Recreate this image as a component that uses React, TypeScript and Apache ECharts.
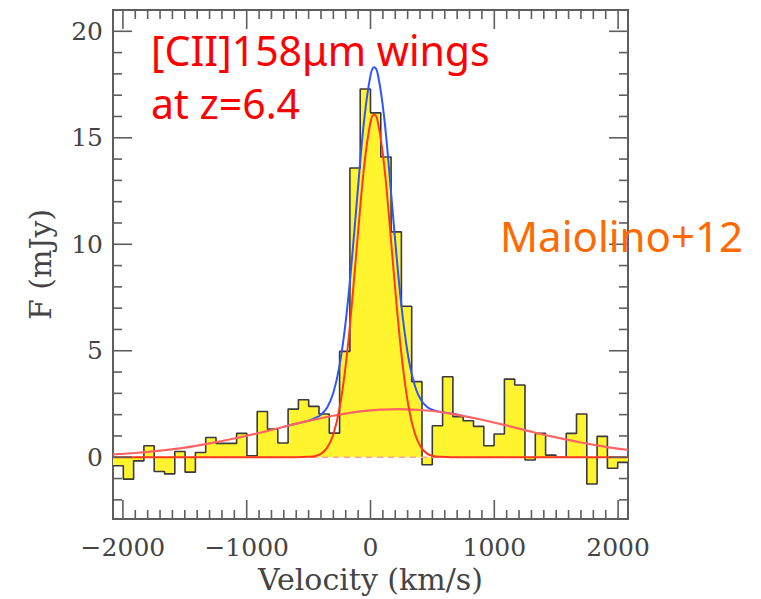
import React, { useEffect, useRef } from "react";
import * as echarts from "echarts";

// ---------- data ----------
const VELOCITY_RANGE = [-2080, 2080];
const FLUX_RANGE = [-2.9, 21];
const BIN_START = -2080; // km/s, left edge of first channel
const BIN_WIDTH = 83.2; // km/s

// observed flux per channel (mJy), left to right
const FLUX = [
  -0.4, -1.03, -0.17, 0.54, -0.67, -0.78, 0.27, -0.7, 0.22, 0.93,
  0.65, 0.65, 1.12, 0.07, 2.15, 1.32, 0.67, 2.26, 2.7, 2.39,
  2.03, 1.13, 4.97, 13.58, 17.29, 16.17, 14.1, 10.58, 7.09, 3.55,
  -0.35, 1.48, 3.78, 1.9, 1.71, 1.45, 0.54, 1.09, 3.67, 3.39,
  -0.13, 1.12, 0.1, 0.0, 1.12, 2.03, -1.26, 0.98, -0.52, -0.24,
];

// narrow component fit (red)
const NARROW_V = [-2080, -800, -600, -500, -450, -400, -350, -300, -250, -200, -150, -100, -50, 0, 30, 60, 110, 160, 210, 260, 310, 360, 410, 460, 510, 560, 660, 860, 2080];
const NARROW_F = [0, 0, 0, 0.02, 0.05, 0.16, 0.45, 1.08, 2.3, 4.33, 7.21, 10.58, 13.73, 15.73, 16.09, 15.73, 13.73, 10.58, 7.21, 4.33, 2.3, 1.08, 0.45, 0.16, 0.05, 0.02, 0, 0, 0];

// broad wing component fit (light red)
const BROAD_V = [-2080, -1900, -1700, -1500, -1300, -1100, -900, -700, -500, -300, -100, 100, 220, 300, 500, 700, 900, 1100, 1300, 1500, 1700, 1900, 2080];
const BROAD_F = [0.13, 0.2, 0.31, 0.45, 0.65, 0.88, 1.14, 1.43, 1.71, 1.95, 2.14, 2.24, 2.26, 2.25, 2.17, 1.99, 1.76, 1.49, 1.2, 0.93, 0.69, 0.49, 0.35];

// total fit (blue)
const TOTAL_V = [-700, -600, -500, -450, -400, -350, -300, -250, -200, -150, -100, -50, 0, 30, 60, 110, 160, 210, 260, 310, 360, 410, 460, 510, 560, 660, 760];
const TOTAL_F = [1.43, 1.57, 1.72, 1.83, 2.0, 2.34, 3.03, 4.31, 6.38, 9.31, 12.72, 15.9, 17.93, 18.31, 17.96, 15.98, 12.84, 9.47, 6.59, 4.55, 3.32, 2.66, 2.35, 2.21, 2.14, 2.04, 1.93];

// tick values
const X_MAJOR = [-2000, -1000, 0, 1000, 2000];
const X_MINOR = Array.from({ length: 41 }, (_, i) => -2000 + i * 100);
const Y_MAJOR = [0, 5, 10, 15, 20];
const Y_MINOR = Array.from({ length: 23 }, (_, i) => -2 + i);

const TITLE_LINES = ["[CII]158\u03bcm wings", "at z=6.4"];
const CREDIT = "Maiolino+12";

const AXIS_COLOR = "#5e5e5e";
const TEXT_COLOR = "#444";
const MAJOR_LEN = 19;
const MINOR_LEN = 9;

export default function App() {
  const ref = useRef<HTMLDivElement>(null);

  useEffect(() => {
    if (!ref.current) return;
    const chart = echarts.init(ref.current, undefined, { renderer: "svg" });

    const edges = FLUX.map((_, i) => BIN_START + i * BIN_WIDTH);
    const histData = FLUX.map((f, i) => [edges[i], f]);
    histData.push([BIN_START + FLUX.length * BIN_WIDTH, FLUX[FLUX.length - 1]]);

    const fmt = (v: number) => (v < 0 ? "\u2212" + Math.abs(v) : String(v));

    const xTickData = X_MINOR.map((v) => [v, FLUX_RANGE[0], X_MAJOR.includes(v) ? 1 : 0]);
    const yTickData = Y_MINOR.map((v) => [VELOCITY_RANGE[0], v, Y_MAJOR.includes(v) ? 1 : 0]);
    const tickStyle = { stroke: AXIS_COLOR, lineWidth: 1.6 };

    const option: any = {
      animation: false,
      grid: {
        left: 113,
        top: 10,
        width: 515,
        height: 509,
        show: true,
        borderColor: AXIS_COLOR,
        borderWidth: 2,
        backgroundColor: "transparent",
        outerBoundsMode: "none",
        containLabel: false,
      },
      xAxis: {
        type: "value",
        min: VELOCITY_RANGE[0],
        max: VELOCITY_RANGE[1],
        splitLine: { show: false },
        axisLine: { show: false, onZero: false },
        axisTick: { show: false },
        axisLabel: {
          show: true,
          customValues: X_MAJOR,
          formatter: fmt,
          fontFamily: "DejaVu Serif",
          fontSize: 25,
          color: TEXT_COLOR,
          margin: 16,
        },
        name: "Velocity (km/s)",
        nameLocation: "middle",
        nameGap: 45,
        nameTextStyle: { fontFamily: "DejaVu Serif", fontSize: 30, color: TEXT_COLOR },
      },
      yAxis: {
        type: "value",
        min: FLUX_RANGE[0],
        max: FLUX_RANGE[1],
        splitLine: { show: false },
        axisLine: { show: false, onZero: false },
        axisTick: { show: false },
        axisLabel: {
          show: true,
          customValues: Y_MAJOR,
          formatter: fmt,
          fontFamily: "DejaVu Serif",
          fontSize: 25,
          color: TEXT_COLOR,
          margin: 10,
        },
        name: "F (mJy)",
        nameLocation: "middle",
        nameGap: 58,
        nameTextStyle: { fontFamily: "DejaVu Serif", fontSize: 30, color: TEXT_COLOR },
      },
      series: [
        {
          name: "spectrum",
          type: "line",
          step: "end",
          data: histData,
          symbol: "none",
          lineStyle: { color: "#3a3a3a", width: 1.6 },
          areaStyle: { color: "#fff42e", opacity: 1, origin: "auto" },
          silent: true,
          z: 2,
        },
        {
          name: "zero",
          type: "line",
          data: [[VELOCITY_RANGE[0], 0], [VELOCITY_RANGE[1], 0]],
          symbol: "none",
          lineStyle: { color: "#ffa0a0", width: 1.5, type: [6, 5] },
          silent: true,
          z: 3,
        },
        {
          name: "total",
          type: "line",
          data: TOTAL_V.map((v, i) => [v, TOTAL_F[i]]),
          symbol: "none",
          smooth: 0.4,
          lineStyle: { color: "#2f55ff", width: 2 },
          silent: true,
          z: 4,
        },
        {
          name: "broad",
          type: "line",
          data: BROAD_V.map((v, i) => [v, BROAD_F[i]]),
          symbol: "none",
          smooth: 0.4,
          lineStyle: { color: "#ff6464", width: 2.2 },
          silent: true,
          z: 5,
        },
        {
          name: "narrow",
          type: "line",
          data: NARROW_V.map((v, i) => [v, NARROW_F[i]]),
          symbol: "none",
          smooth: 0.4,
          lineStyle: { color: "#ff3a1c", width: 2 },
          silent: true,
          z: 6,
        },
        {
          name: "xticks",
          type: "custom",
          silent: true,
          clip: false,
          z: 10,
          data: xTickData,
          renderItem: (params: any, api: any) => {
            const v = api.value(0);
            const len = api.value(2) ? MAJOR_LEN : MINOR_LEN;
            const pb = api.coord([v, FLUX_RANGE[0]]);
            const pt = api.coord([v, FLUX_RANGE[1]]);
            return {
              type: "group",
              children: [
                { type: "line", shape: { x1: pb[0], y1: pb[1], x2: pb[0], y2: pb[1] - len }, style: tickStyle },
                { type: "line", shape: { x1: pt[0], y1: pt[1], x2: pt[0], y2: pt[1] + len }, style: tickStyle },
              ],
            };
          },
        },
        {
          name: "yticks",
          type: "custom",
          silent: true,
          clip: false,
          z: 10,
          data: yTickData,
          encode: { x: 0, y: 1 },
          renderItem: (params: any, api: any) => {
            const v = api.value(1);
            const len = api.value(2) ? MAJOR_LEN : MINOR_LEN;
            const pl = api.coord([VELOCITY_RANGE[0], v]);
            const pr = api.coord([VELOCITY_RANGE[1], v]);
            return {
              type: "group",
              children: [
                { type: "line", shape: { x1: pl[0], y1: pl[1], x2: pl[0] + len, y2: pl[1] }, style: tickStyle },
                { type: "line", shape: { x1: pr[0], y1: pr[1], x2: pr[0] - len, y2: pr[1] }, style: tickStyle },
              ],
            };
          },
        },
      ],
      graphic: [
        {
          type: "text",
          x: 151,
          y: 50,
          z: 20,
          style: {
            text: TITLE_LINES[0],
            fontFamily: "Noto Sans",
            fontSize: 41,
            lineHeight: 42,
            fill: "#ff0000",
            verticalAlign: "middle",
          },
        },
        {
          type: "text",
          x: 151,
          y: 103,
          z: 20,
          style: {
            text: TITLE_LINES[1],
            fontFamily: "Noto Sans",
            fontSize: 41,
            lineHeight: 42,
            fill: "#ff0000",
            verticalAlign: "middle",
          },
        },
        {
          type: "text",
          x: 500,
          y: 235,
          z: 20,
          style: {
            text: CREDIT,
            fontFamily: "Noto Sans",
            fontSize: 42,
            lineHeight: 42,
            fill: "#ff6a00",
            verticalAlign: "middle",
          },
        },
      ],
    };

    chart.setOption(option);
    return () => chart.dispose();
  }, []);

  return <div ref={ref} style={{ position: "fixed", left: 0, top: 0, width: 761, height: 599, background: "#fff" }} />;
}
